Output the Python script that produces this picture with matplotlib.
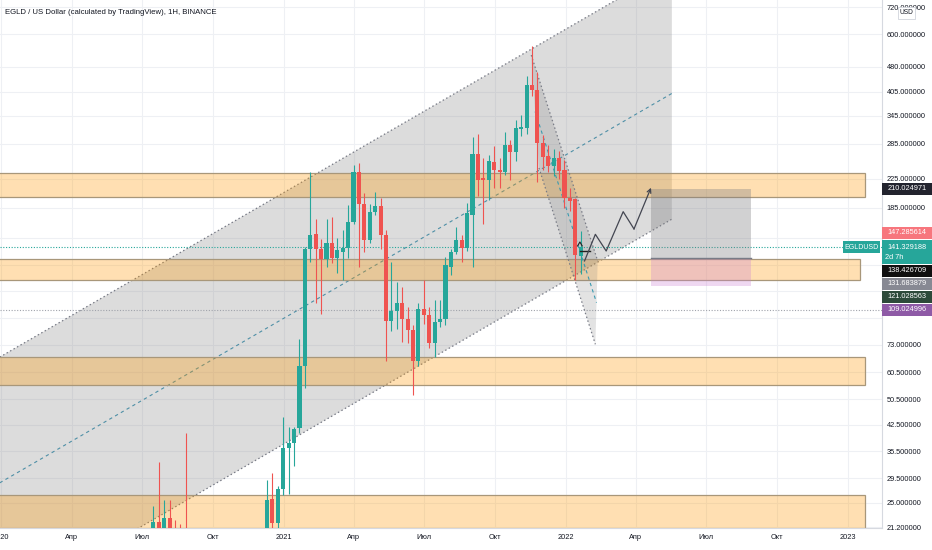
import numpy as np
import pandas as pd
import matplotlib
matplotlib.use("Agg")
import matplotlib.pyplot as plt
import matplotlib.dates as mdates
from matplotlib.patches import Rectangle
from matplotlib.ticker import FixedLocator, FuncFormatter, NullFormatter

plt.rcParams["font.family"] = ["Liberation Sans", "DejaVu Sans"]

GREEN = "#26a69a"
RED = "#ef5350"
TXT = "#131722"

# weekly candles, summer 2020 (only the tops reach the visible range)
early_start = "2020-07-13"
early_open = [20.0, 22.0, 20.3, 22.6, 20.8, 19.0, 17.5]
early_high = [24.5, 33.0, 25.5, 25.4, 22.3, 21.7, 40.1]
early_low = [18.5, 19.0, 19.0, 18.5, 17.0, 16.0, 15.0]
early_close = [21.9, 20.3, 22.5, 20.5, 19.0, 17.5, 16.5]

# weekly candles, Dec 2020 - Jan 2022
main_start = "2020-12-07"
main_open = [19.5, 25.6, 21.8, 27.4, 36.3, 37.5, 41.5, 63.0, 140.0, 155.0,
             140.0, 130.5, 145.0, 131.0, 137.0, 141.0, 168.0, 236.0, 189.5, 148.0,
             180.0, 187.0, 154.0, 86.0, 92.0, 97.0, 87.0, 80.5, 65.5, 93.0,
             89.0, 74.0, 85.0, 87.0, 124.0, 137.0, 148.0, 141.0, 176.0, 266.0,
             226.0, 223.0, 252.0, 239.0, 235.0, 283.0, 270.0, 315.0, 317.0, 425.0,
             410.0, 287.0, 262.0, 245.0, 259.0, 239.0, 197.0, 196.0, 133.5]
main_high = [29.2, 30.6, 28.0, 44.7, 41.7, 41.8, 75.9, 142.0, 235.0, 171.0,
             149.0, 171.5, 174.0, 150.0, 159.0, 188.0, 247.0, 250.0, 204.0, 190.0,
             206.0, 197.0, 159.0, 128.0, 112.0, 108.0, 94.0, 83.5, 97.0, 113.0,
             94.0, 99.0, 99.0, 132.0, 140.0, 162.0, 154.0, 191.0, 298.0, 305.0,
             259.0, 265.0, 281.0, 259.0, 309.0, 293.0, 336.0, 346.0, 451.0, 553.0,
             465.0, 302.0, 283.0, 276.0, 271.0, 255.0, 211.0, 197.0, 158.0]
main_low = [18.0, 20.0, 21.0, 26.3, 26.5, 32.0, 40.0, 54.4, 128.0, 97.0,
            90.0, 124.0, 127.0, 119.0, 113.0, 131.0, 165.0, 124.0, 137.0, 145.0,
            176.0, 140.0, 65.5, 80.0, 81.0, 74.5, 74.0, 52.0, 63.0, 84.0,
            71.5, 67.0, 82.5, 83.5, 117.0, 135.0, 127.5, 138.0, 124.0, 200.0,
            166.0, 195.0, 211.0, 211.0, 230.0, 223.0, 253.0, 300.0, 305.0, 395.0,
            220.0, 239.0, 236.0, 229.0, 225.0, 185.0, 181.0, 113.0, 118.0]
main_close = [25.5, 21.8, 27.4, 36.3, 37.5, 41.3, 63.0, 140.0, 154.0, 140.0,
              130.5, 145.0, 131.0, 139.0, 141.0, 168.0, 236.0, 189.5, 148.0, 180.0,
              187.0, 154.0, 86.0, 92.0, 97.0, 87.0, 80.5, 65.5, 93.0, 89.0,
              74.0, 85.0, 87.0, 125.0, 137.0, 148.0, 141.0, 178.0, 266.0, 223.0,
              223.0, 254.0, 239.0, 235.0, 283.0, 270.0, 317.0, 319.0, 425.0, 410.0,
              287.0, 261.0, 245.0, 259.0, 237.0, 197.0, 194.0, 134.0, 141.329188]

# horizontal support / resistance zones (price bottom, price top, end date)
zone_bottom = [198.7, 113.0, 55.6, 15.0]
zone_top = [233.8, 130.3, 67.3, 26.3]
zone_end = ["2023-01-23", "2023-01-16", "2023-01-23", "2023-01-23"]

# rising channel: lower border anchors and width factor
channel_dates = ["2019-12-30", "2022-05-18"]
channel_lower = [12.2, 171.0]
channel_factor = 5.5

# falling channel from the November top (start/end of each border)
fall_upper_dates = ["2021-11-17", "2022-02-11"]
fall_upper = [520.0, 128.8]
fall_lower_dates = ["2021-11-27", "2022-02-08"]
fall_lower = [241.9, 73.2]

# projected path
path_dates = ["2022-01-25", "2022-02-08", "2022-02-22", "2022-03-16", "2022-03-30", "2022-04-21"]
path_prices = [128.8, 154.3, 137.8, 179.9, 160.0, 211.6]

# long position tool
pos_dates = ["2022-04-21", "2022-08-29"]
pos_target = 210.024971
pos_entry = 131.683879
pos_stop = 109.024996

last_price = 141.329188
dotted_level = 92.4

# right-side price labels
label_vals = [210.024971, 147.285614, 141.329188, 138.426709, 131.683879, 121.028563, 109.024996]
label_bg = ["#22232e", "#f7767d", GREEN, "#101010", "#878993", "#2d4a3a", "#8e5aa6"]

y_ticks = [21.2, 25.0, 29.5, 35.5, 42.5, 50.5, 60.5, 73.0, 185.0, 225.0,
           285.0, 345.0, 405.0, 480.0, 600.0, 720.0]
y_hidden = [87.5, 105.0, 125.0, 150.0]


def d(s):
    return mdates.date2num(pd.Timestamp(s).to_pydatetime())


W, H = 932, 550
fig = plt.figure(figsize=(W / 100, H / 100), dpi=100)
ax = fig.add_axes([0, 22 / H, 882 / W, 528 / H])
ax.set_yscale("log")
ax.set_ylim(21.07, 755.6)
ax.set_xlim(d("2019-12-30 09:36"), d("2023-02-14"))

# grid / axes
q_ticks = pd.date_range("2020-01-01", "2023-01-01", freq="QS")
q_names = {4: "Апр", 7: "Июл", 10: "Окт"}
ax.xaxis.set_major_locator(FixedLocator([d(t) for t in q_ticks]))
ax.set_xticklabels([str(t.year) if t.month == 1 else q_names[t.month] for t in q_ticks])
ax.yaxis.tick_right()
ax.yaxis.set_major_locator(FixedLocator(y_ticks))
ax.yaxis.set_major_formatter(FuncFormatter(lambda v, p: f"{v:.6f}"))
ax.yaxis.set_minor_locator(FixedLocator(y_hidden))
ax.yaxis.set_minor_formatter(NullFormatter())
ax.tick_params(which="both", length=0, labelsize=5.3, colors=TXT)
ax.tick_params(axis="y", pad=3.5)
ax.tick_params(axis="x", pad=4)
ax.grid(True, which="both", color="#eef0f4", lw=0.8)
ax.set_axisbelow(True)
for s in ("top", "left"):
    ax.spines[s].set_visible(False)
for s in ("right", "bottom"):
    ax.spines[s].set_color("#d6d9e0")
    ax.spines[s].set_linewidth(0.8)

DOT = (0, (1.2, 2.0))

# rising channel
ct = [d(s) for s in channel_dates]
low = np.array(channel_lower)
up = low * channel_factor
mid = low * np.sqrt(channel_factor)
ax.fill_between(ct, low, up, color="#808080", alpha=0.27, lw=0, zorder=1)
ax.plot(ct, low, color="#787b86", lw=0.9, ls=DOT, zorder=2)
ax.plot(ct, up, color="#787b86", lw=0.9, ls=DOT, zorder=2)
ax.plot(ct, mid, color="#4e8fa6", lw=0.8, ls=(0, (3, 3)), zorder=2)

# zones
x0 = ax.get_xlim()[0] - 30
for b, t, e in zip(zone_bottom, zone_top, zone_end):
    ax.add_patch(Rectangle((x0, b), d(e) - x0, t - b, facecolor="#ff9800", alpha=0.3,
                           lw=0, zorder=2.2))
    ax.add_patch(Rectangle((x0, b), d(e) - x0, t - b, facecolor="none",
                           edgecolor="#a8977a", lw=0.9, zorder=2.3))

# horizontal levels
ax.axhline(last_price, color=GREEN, lw=0.8, ls=(0, (1, 1.5)), zorder=2.4)
ax.axhline(dotted_level, color="#a0a3ab", lw=0.8, ls=(0, (1, 1.5)), zorder=2.4)

# falling channel
fu_t = [d(s) for s in fall_upper_dates]
fl_t = [d(s) for s in fall_lower_dates]
ax.fill([fu_t[0], fu_t[1], fl_t[1], fl_t[0]],
        [fall_upper[0], fall_upper[1], fall_lower[1], fall_lower[0]],
        color="#808080", alpha=0.22, lw=0, zorder=2.5)
ax.plot(fu_t, fall_upper, color="#787b86", lw=0.9, ls=DOT, zorder=2.6)
ax.plot(fl_t, fall_lower, color="#787b86", lw=0.9, ls=DOT, zorder=2.6)
fm_t = [(fu_t[0] + fl_t[0]) / 2, (fu_t[1] + fl_t[1]) / 2]
fm = [np.sqrt(fall_upper[0] * fall_lower[0]), np.sqrt(fall_upper[1] * fall_lower[1])]
ax.plot(fm_t, fm, color="#3a9ab0", lw=0.8, ls=(0, (3, 3)), zorder=2.6)

# position tool
pt = [d(s) for s in pos_dates]
ax.add_patch(Rectangle((pt[0], pos_entry), pt[1] - pt[0], pos_target - pos_entry,
                       facecolor="#7d7d80", alpha=0.35, lw=0, zorder=2.7))
ax.add_patch(Rectangle((pt[0], pos_stop), pt[1] - pt[0], pos_entry - pos_stop,
                       facecolor="#cc80d2", alpha=0.3, lw=0, zorder=2.7))
ax.plot(pt, [pos_entry, pos_entry], color="#787b86", lw=1.0, zorder=2.8)


# candles
def draw_candles(start, o, h, l, c):
    t = mdates.date2num(pd.date_range(start, periods=len(o), freq="7D").to_pydatetime()) + 3
    o, h, l, c = map(np.asarray, (o, h, l, c))
    col = np.where(c >= o, GREEN, RED)
    ax.vlines(t, l, h, colors=col, lw=0.8, zorder=4)
    ax.bar(t, np.abs(c - o), bottom=np.minimum(o, c), width=5.3, color=col, lw=0, zorder=5)


draw_candles(early_start, early_open, early_high, early_low, early_close)
draw_candles(main_start, main_open, main_high, main_low, main_close)

# small marks at the last candle
ax.plot([d("2022-01-16"), d("2022-01-19"), d("2022-01-22")], [142.6, 146.5, 142.6],
        color="#222222", lw=0.8, zorder=6)
ax.plot([d("2022-01-19"), d("2022-02-01")], [137.8, 137.8], color="#222222", lw=1.0, zorder=6)

# projected path
pd_t = [d(s) for s in path_dates]
ax.plot(pd_t[:-1], path_prices[:-1], color="#434651", lw=0.9, zorder=6)
ax.annotate("", xy=(pd_t[-1], path_prices[-1]), xytext=(pd_t[-2], path_prices[-2]),
            arrowprops=dict(arrowstyle="->", color="#434651", lw=0.9,
                            mutation_scale=7, shrinkA=0, shrinkB=0), zorder=6)

# title
fig.text(5 / W, 1 - 12 / H, "EGLD / US Dollar (calculated by TradingView), 1H, BINANCE",
         fontsize=5.6, color=TXT, va="center", ha="left")


# price labels on the axis, stacked like the platform does
def px_y(v):
    return H - ax.transData.transform((ax.get_xlim()[0], v))[1]


nat = [px_y(v) for v in label_vals]
anchor = label_vals.index(last_price)
boxes = {anchor: (nat[anchor] - 8, nat[anchor] + 17)}
prev_top = boxes[anchor][0]
for i in sorted([i for i in range(len(nat)) if nat[i] < nat[anchor]], key=lambda i: -nat[i]):
    bot = min(nat[i] + 6.5, prev_top)
    boxes[i] = (bot - 13, bot)
    prev_top = bot - 13
prev_bot = boxes[anchor][1]
for i in sorted([i for i in range(len(nat)) if nat[i] > nat[anchor] and i != anchor], key=lambda i: nat[i]):
    top = max(nat[i] - 6.5, prev_bot)
    boxes[i] = (top, top + 13)
    prev_bot = top + 13

for i, v in enumerate(label_vals):
    top, bot = boxes[i]
    fig.add_artist(Rectangle((882 / W, 1 - (bot - 0.5) / H), 50 / W, (bot - top - 1) / H,
                             transform=fig.transFigure, facecolor=label_bg[i], lw=0))
    ty = nat[i] if i == anchor else (top + bot) / 2
    fig.text(907 / W, 1 - ty / H, f"{v:.6f}", fontsize=5.3, color="white",
             ha="center", va="center")
    if i == anchor:
        fig.text(885 / W, 1 - (ty + 10) / H, "2d 7h", fontsize=5.3, color="white",
                 ha="left", va="center")
        fig.add_artist(Rectangle((843 / W, 1 - (ty + 6) / H), 37 / W, 12 / H,
                                 transform=fig.transFigure, facecolor=GREEN, lw=0))
        fig.text(861.5 / W, 1 - ty / H, "EGLDUSD", fontsize=5.0, color="white",
                 ha="center", va="center")

# currency box
fig.add_artist(Rectangle((898 / W, 1 - 19 / H), 17 / W, 12 / H, transform=fig.transFigure,
                         facecolor="white", edgecolor="#d1d4dc", lw=0.6))
fig.text(906.5 / W, 1 - 13 / H, "USD", fontsize=4.8, color=TXT, ha="center", va="center")

fig.savefig("out.png", dpi=100, facecolor="white")
